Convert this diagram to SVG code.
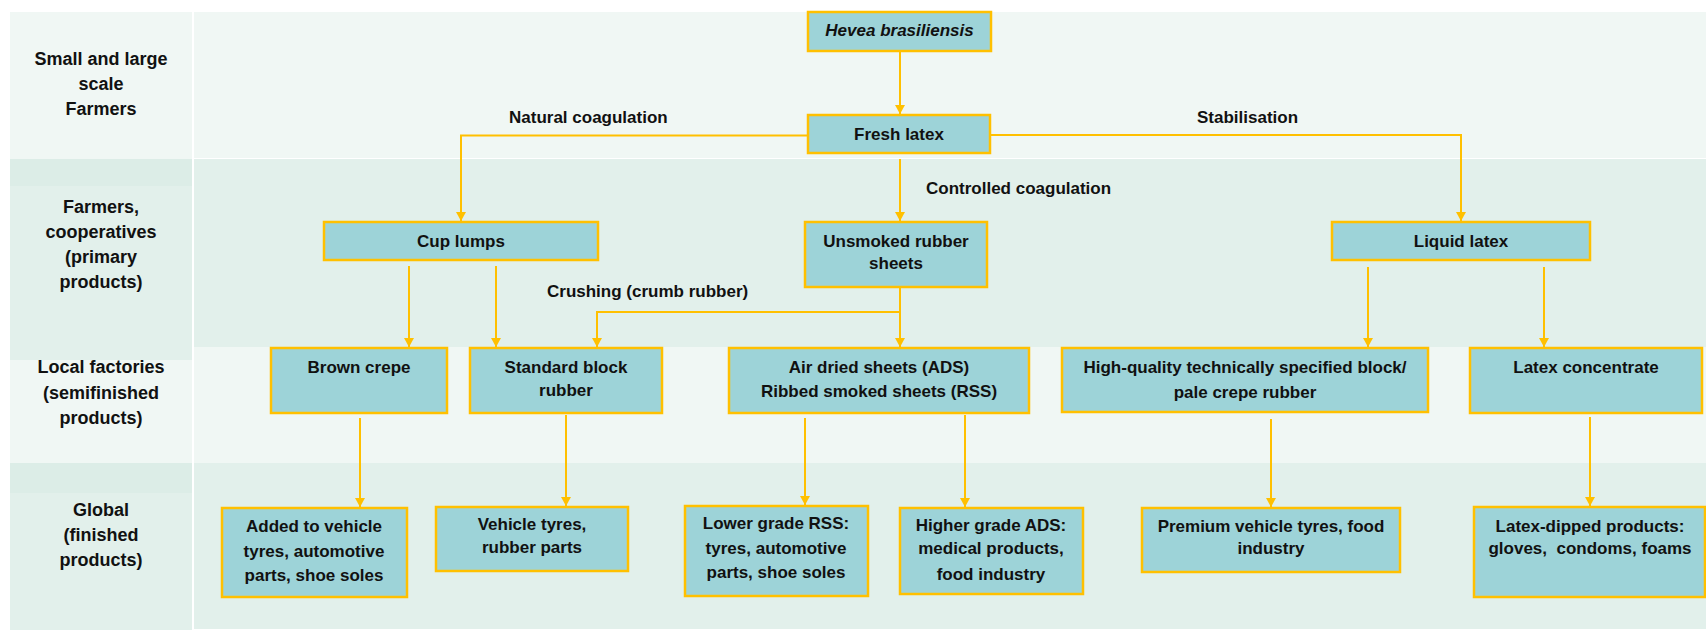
<svg xmlns="http://www.w3.org/2000/svg" width="1706" height="630" viewBox="0 0 1706 630">
<style>
.bgL{fill:#F0F7F4}
.bgM{fill:#E2F0EB}
.bgD{fill:#DCEDE7}
.box{fill:#9DD3D8;stroke:#FFC000;stroke-width:2.5}
.t{font-family:"Liberation Sans",Arial,sans-serif;font-weight:bold;font-size:17px;fill:#111;text-anchor:middle}
.rl{font-size:18px}
.lbl{font-family:"Liberation Sans",Arial,sans-serif;font-weight:bold;font-size:17px;fill:#111}
.c{fill:none;stroke:#FFC000;stroke-width:2}
.a{fill:none;stroke:#FFC000;stroke-width:2;marker-end:url(#ah)}
</style>
<defs>
<marker id="ah" markerUnits="userSpaceOnUse" markerWidth="10" markerHeight="10" refX="9" refY="5" orient="auto">
<path d="M0,0 L9,5 L0,10 z" fill="#FFC000"/>
</marker>
</defs>
<rect width="1706" height="630" fill="#FFFFFF"/>
<g id="bands">
<rect class="bgL" x="194" y="12" width="1512" height="146"/>
<rect class="bgM" x="194" y="159" width="1512" height="188"/>
<rect class="bgL" x="194" y="347" width="1512" height="116"/>
<rect class="bgM" x="194" y="463" width="1512" height="166"/>
<rect class="bgL" x="10" y="12" width="182" height="147"/>
<rect class="bgD" x="10" y="159" width="182" height="27"/>
<rect class="bgM" x="10" y="186" width="182" height="174"/>
<rect class="bgL" x="10" y="360" width="182" height="103"/>
<rect class="bgD" x="10" y="463" width="182" height="30"/>
<rect class="bgM" x="10" y="493" width="182" height="137"/>
</g>
<g id="row-labels">
<text class="t rl" x="101" y="65">Small and large</text>
<text class="t rl" x="101" y="90">scale</text>
<text class="t rl" x="101" y="115">Farmers</text>
<text class="t rl" x="101" y="213">Farmers,</text>
<text class="t rl" x="101" y="238">cooperatives</text>
<text class="t rl" x="101" y="263">(primary</text>
<text class="t rl" x="101" y="288">products)</text>
<text class="t rl" x="101" y="373">Local factories</text>
<text class="t rl" x="101" y="399">(semifinished</text>
<text class="t rl" x="101" y="424">products)</text>
<text class="t rl" x="101" y="516">Global</text>
<text class="t rl" x="101" y="541">(finished</text>
<text class="t rl" x="101" y="566">products)</text>
</g>
<g id="connectors">
<line class="a" x1="900" y1="51" x2="900" y2="114"/>
<polyline class="a" points="808,135.5 461,135.5 461,221"/>
<polyline class="a" points="990,135 1461,135 1461,221"/>
<line class="a" x1="900" y1="159" x2="900" y2="221"/>
<line class="a" x1="409" y1="266" x2="409" y2="347"/>
<line class="a" x1="496" y1="266" x2="496" y2="347"/>
<line class="a" x1="900" y1="287" x2="900" y2="347"/>
<polyline class="a" points="900,312 597,312 597,347"/>
<line class="a" x1="1368" y1="267" x2="1368" y2="347"/>
<line class="a" x1="1544" y1="267" x2="1544" y2="347"/>
<line class="a" x1="360" y1="418" x2="360" y2="507"/>
<line class="a" x1="566" y1="415" x2="566" y2="506"/>
<line class="a" x1="805" y1="418" x2="805" y2="505"/>
<line class="a" x1="965" y1="415" x2="965" y2="507"/>
<line class="a" x1="1271" y1="419" x2="1271" y2="507"/>
<line class="a" x1="1590" y1="417" x2="1590" y2="506"/>
<text class="lbl" x="509" y="123">Natural coagulation</text>
<text class="lbl" x="1197" y="123">Stabilisation</text>
<text class="lbl" x="926" y="194">Controlled coagulation</text>
<text class="lbl" x="547" y="297">Crushing (crumb rubber)</text>
</g>
<g id="hevea">
<rect class="box" x="808" y="12" width="183" height="39"/>
<text class="t" x="899.5" y="36" font-style="italic">Hevea brasiliensis</text>
</g>
<g id="fresh-latex">
<rect class="box" x="808" y="115" width="182" height="38"/>
<text class="t" x="899" y="140">Fresh latex</text>
</g>
<g id="cup-lumps">
<rect class="box" x="324" y="222" width="274" height="38"/>
<text class="t" x="461" y="247">Cup lumps</text>
</g>
<g id="unsmoked">
<rect class="box" x="805" y="222" width="182" height="65"/>
<text class="t" x="896" y="247">Unsmoked rubber</text>
<text class="t" x="896" y="269">sheets</text>
</g>
<g id="liquid-latex">
<rect class="box" x="1332" y="222" width="258" height="38"/>
<text class="t" x="1461" y="247">Liquid latex</text>
</g>
<g id="brown-crepe">
<rect class="box" x="271" y="348" width="176" height="65"/>
<text class="t" x="359" y="373">Brown crepe</text>
</g>
<g id="standard-block">
<rect class="box" x="470" y="348" width="192" height="65"/>
<text class="t" x="566" y="373">Standard block</text>
<text class="t" x="566" y="396">rubber</text>
</g>
<g id="ads-rss">
<rect class="box" x="729" y="348" width="300" height="65"/>
<text class="t" x="879" y="373">Air dried sheets (ADS)</text>
<text class="t" x="879" y="397">Ribbed smoked sheets (RSS)</text>
</g>
<g id="high-quality">
<rect class="box" x="1062" y="348" width="366" height="64"/>
<text class="t" x="1245" y="373">High-quality technically specified block/</text>
<text class="t" x="1245" y="398">pale crepe rubber</text>
</g>
<g id="latex-concentrate">
<rect class="box" x="1470" y="348" width="232" height="65"/>
<text class="t" x="1586" y="373">Latex concentrate</text>
</g>
<g id="added-vehicle">
<rect class="box" x="222" y="508" width="185" height="89"/>
<text class="t" x="314" y="532">Added to vehicle</text>
<text class="t" x="314" y="557">tyres, automotive</text>
<text class="t" x="314" y="581">parts, shoe soles</text>
</g>
<g id="vehicle-tyres">
<rect class="box" x="436" y="507" width="192" height="64"/>
<text class="t" x="532" y="530">Vehicle tyres,</text>
<text class="t" x="532" y="553">rubber parts</text>
</g>
<g id="lower-grade">
<rect class="box" x="685" y="506" width="183" height="90"/>
<text class="t" x="776" y="529">Lower grade RSS:</text>
<text class="t" x="776" y="554">tyres, automotive</text>
<text class="t" x="776" y="578">parts, shoe soles</text>
</g>
<g id="higher-grade">
<rect class="box" x="900" y="508" width="183" height="86"/>
<text class="t" x="991" y="531">Higher grade ADS:</text>
<text class="t" x="991" y="554">medical products,</text>
<text class="t" x="991" y="580">food industry</text>
</g>
<g id="premium">
<rect class="box" x="1142" y="508" width="258" height="64"/>
<text class="t" x="1271" y="532">Premium vehicle tyres, food</text>
<text class="t" x="1271" y="554">industry</text>
</g>
<g id="latex-dipped">
<rect class="box" x="1474" y="507" width="231" height="90"/>
<text class="t" x="1590" y="532">Latex-dipped products:</text>
<text class="t" x="1590" y="554" xml:space="preserve">gloves,  condoms, foams</text>
</g>
</svg>
